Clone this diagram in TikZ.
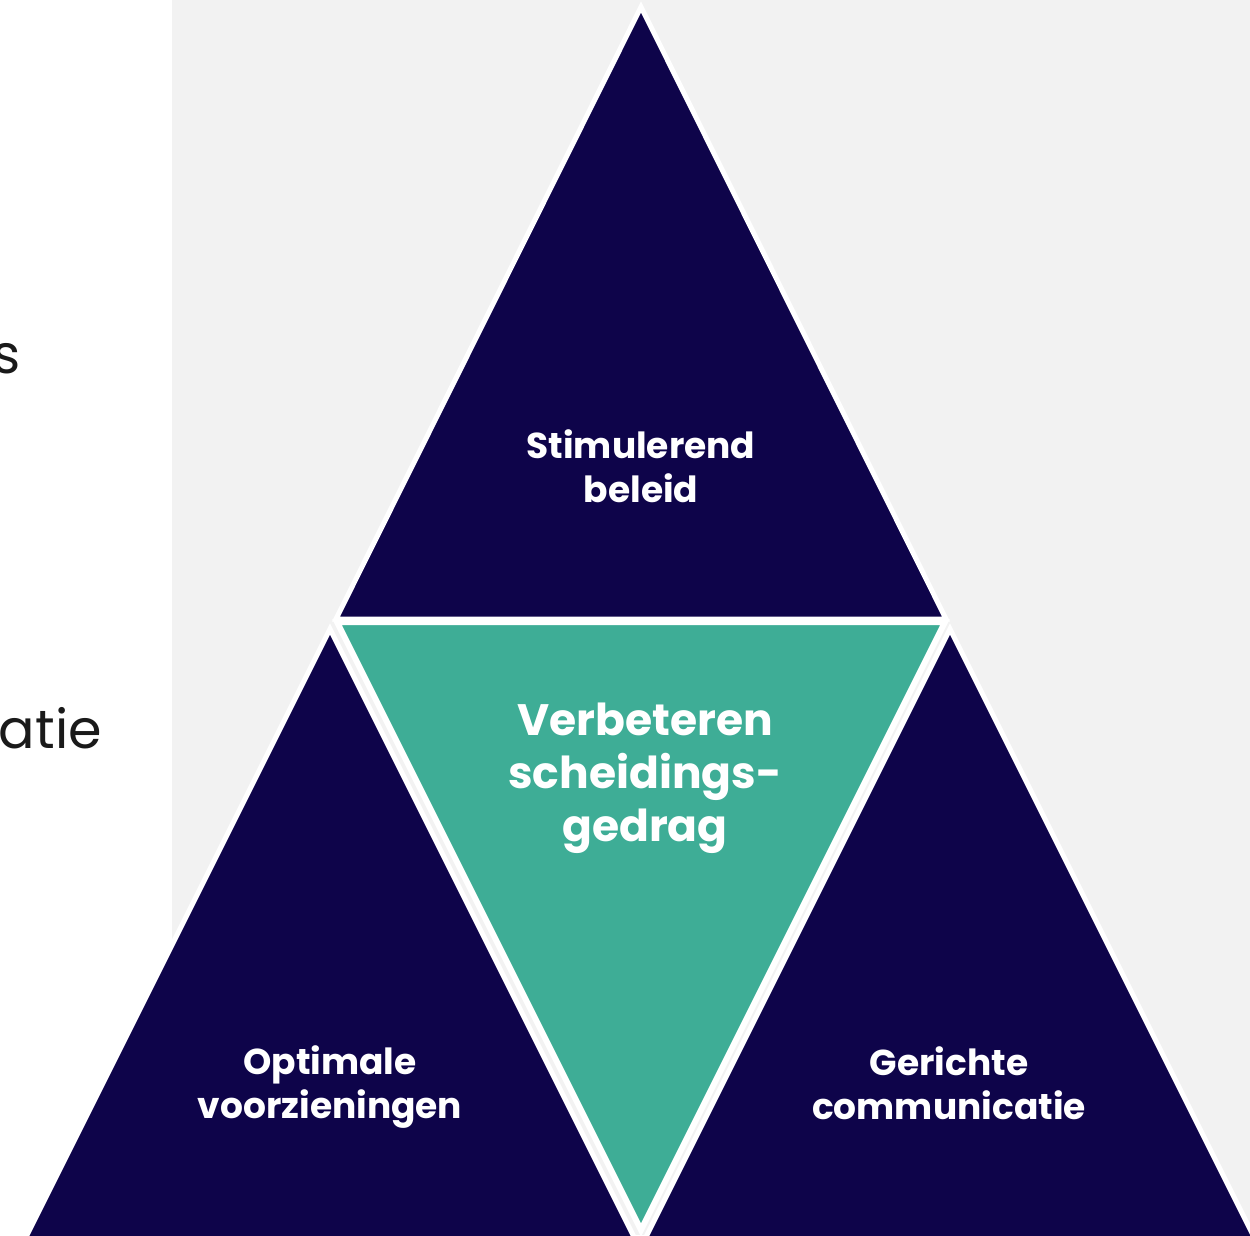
\documentclass[tikz,border=0pt]{standalone}
\usepackage{fontspec}
\setmainfont{Poppins}
\definecolor{navy}{HTML}{0E044A}
\definecolor{teal}{HTML}{3EAD96}
\definecolor{bggray}{HTML}{F2F2F2}
\definecolor{ink}{HTML}{1A1A1A}
\tikzset{
  tri/.style={fill=navy, draw=white, line width=5pt, line join=miter},
  midtri/.style={fill=teal, draw=white, line width=6pt, line join=miter},
  lbl/.style={text=white, align=center, font=\fontsize{36}{44}\selectfont\bfseries},
  biglbl/.style={text=white, align=center, font=\fontsize{44}{53}\selectfont\bfseries},
  cut/.style={text=ink, font=\fontsize{54}{60}\selectfont, inner sep=0pt}
}
\begin{document}
\begin{tikzpicture}[x=1pt,y=-1pt]
\useasboundingbox (0,0) rectangle (1250,1235);
\clip (0,0) rectangle (1250,1235);
\fill[white] (0,0) rectangle (172,1235);
\fill[bggray] (172,0) rectangle (1250,1235);
\node[cut, anchor=base east] (s) at (21,373) {s};
\node[cut, anchor=base east] (atie) at (102,748) {atie};
\path[tri] (641,7) -- (336,619) -- (946,619) -- cycle;
\path[tri] (330,629) -- (24,1241) -- (636,1241) -- cycle;
\path[tri] (950,629) -- (644,1241) -- (1256,1241) -- cycle;
\path[midtri] (337,622) -- (945,622) -- (641,1230) -- cycle;
\node[lbl] (top) at (641,466) {Stimulerend\\beleid};
\node[biglbl] (mid) at (645,778) {Verbeteren\\scheidings-\\gedrag};
\node[lbl] (bl) at (330,1087) {Optimale\\voorzieningen};
\node[lbl] (br) at (949,1083) {Gerichte\\communicatie};
\end{tikzpicture}
\end{document}
